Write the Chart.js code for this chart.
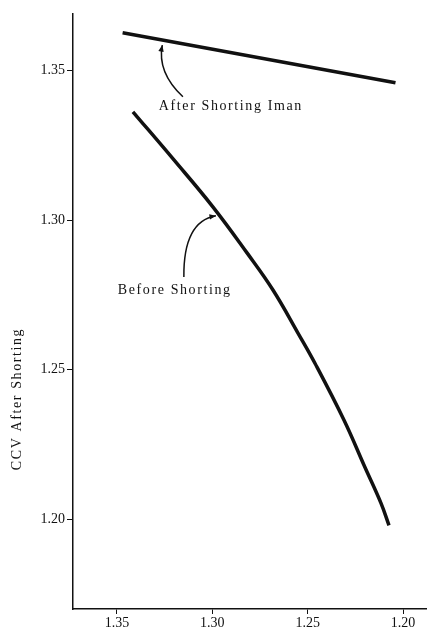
<!DOCTYPE html>
<html>
<head>
<meta charset="utf-8">
<script src="https://cdn.jsdelivr.net/npm/chart.js@4/dist/chart.umd.min.js"></script>
<style>
  html, body { margin: 0; padding: 0; background: #fff; }
  #wrap { width: 427px; height: 630px; }
</style>
</head>
<body>
<div id="wrap"><canvas id="ccvChart" width="427" height="630"></canvas></div>
<script>
// values (x axis runs from high to low)
const afterX = [1.347, 1.204];
const afterY = [1.3627, 1.346];

const beforeX = [1.3416, 1.3201, 1.2997, 1.2818, 1.2682, 1.2551, 1.2462, 1.2310, 1.2200, 1.2116, 1.2074];
const beforeY = [1.3363, 1.3202, 1.3045, 1.2891, 1.2767, 1.2623, 1.2522, 1.2332, 1.2174, 1.2054, 1.1980];

const xTicks = [1.35, 1.30, 1.25, 1.20];
const yTicks = [1.20, 1.25, 1.30, 1.35];

const yTitle = 'CCV After Shorting';
const afterLabel = 'After Shorting Iman';
const beforeLabel = 'Before Shorting';

const serif = '"Liberation Serif", "DejaVu Serif", serif';
const ink = '#111';

const toPoints = (xs, ys) => xs.map((x, i) => ({ x, y: ys[i] }));

// callouts with curved arrows, placed in data units
const callouts = [
  { text: afterLabel, tx: 1.328, ty: 1.337, from: [1.3154, 1.3413], ctrl: [1.3290, 1.3495], to: [1.3262, 1.3586] },
  { text: beforeLabel, tx: 1.3495, ty: 1.2755, from: [1.3149, 1.2810], ctrl: [1.3152, 1.2996], to: [1.2981, 1.3015] }
];

const annotate = {
  id: 'annotate',
  afterDraw(chart) {
    const { ctx, scales: { x, y } } = chart;
    ctx.save();
    ctx.fillStyle = ink;
    ctx.strokeStyle = ink;
    ctx.font = '14px ' + serif;
    ctx.letterSpacing = '1.6px';
    ctx.textBaseline = 'alphabetic';
    callouts.forEach(c => {
      ctx.fillText(c.text, x.getPixelForValue(c.tx), y.getPixelForValue(c.ty));
      const p0 = [x.getPixelForValue(c.from[0]), y.getPixelForValue(c.from[1])];
      const p1 = [x.getPixelForValue(c.ctrl[0]), y.getPixelForValue(c.ctrl[1])];
      const p2 = [x.getPixelForValue(c.to[0]), y.getPixelForValue(c.to[1])];
      ctx.lineWidth = 1.5;
      ctx.beginPath();
      ctx.moveTo(p0[0], p0[1]);
      ctx.quadraticCurveTo(p1[0], p1[1], p2[0], p2[1]);
      ctx.stroke();
      // arrowhead along the end tangent
      const ang = Math.atan2(p2[1] - p1[1], p2[0] - p1[0]);
      const len = 7;
      ctx.beginPath();
      ctx.moveTo(p2[0], p2[1]);
      ctx.lineTo(p2[0] - len * Math.cos(ang - 0.4), p2[1] - len * Math.sin(ang - 0.4));
      ctx.lineTo(p2[0] - len * Math.cos(ang + 0.4), p2[1] - len * Math.sin(ang + 0.4));
      ctx.closePath();
      ctx.fill();
    });
    // y axis title, sitting low beside the axis as in the scan
    ctx.font = '14px ' + serif;
    ctx.letterSpacing = '1.6px';
    ctx.translate(17, 399);
    ctx.rotate(-Math.PI / 2);
    ctx.textAlign = 'center';
    ctx.textBaseline = 'middle';
    ctx.fillText(yTitle, 0, 0);
    ctx.restore();
  }
};

new Chart(document.getElementById('ccvChart').getContext('2d'), {
  type: 'scatter',
  data: {
    datasets: [
      {
        label: afterLabel,
        data: toPoints(afterX, afterY),
        showLine: true,
        borderColor: ink,
        borderWidth: 3.5,
        pointRadius: 0,
        tension: 0
      },
      {
        label: beforeLabel,
        data: toPoints(beforeX, beforeY),
        showLine: true,
        borderColor: ink,
        borderWidth: 3.5,
        pointRadius: 0,
        tension: 0.4
      }
    ]
  },
  plugins: [annotate],
  options: {
    responsive: false,
    animation: false,
    events: [],
    layout: { padding: { top: 14, right: 1, left: 0, bottom: 0 } },
    plugins: {
      legend: { display: false },
      tooltip: { enabled: false }
    },
    scales: {
      x: {
        type: 'linear',
        reverse: true,
        min: 1.188,
        max: 1.373,
        afterBuildTicks: s => { s.ticks = xTicks.map(v => ({ value: v })); },
        afterFit: s => { s.height = 21; },
        border: { display: true, color: ink, width: 1.5 },
        grid: { display: true, drawOnChartArea: false, drawTicks: true, tickLength: 5, color: ink, lineWidth: 1 },
        ticks: {
          color: ink,
          padding: 1,
          maxRotation: 0,
          font: { family: serif, size: 14 },
          callback: v => v.toFixed(2)
        }
      },
      y: {
        type: 'linear',
        min: 1.170,
        max: 1.369,
        afterBuildTicks: s => { s.ticks = yTicks.map(v => ({ value: v })); },
        afterFit: s => { s.width = 73; },
        border: { display: true, color: ink, width: 1.5 },
        grid: { display: true, drawOnChartArea: false, drawTicks: true, tickLength: 6, color: ink, lineWidth: 1 },
        ticks: {
          color: ink,
          padding: 2,
          font: { family: serif, size: 14 },
          callback: v => v.toFixed(2)
        }
      }
    }
  }
});
</script>
</body>
</html>
